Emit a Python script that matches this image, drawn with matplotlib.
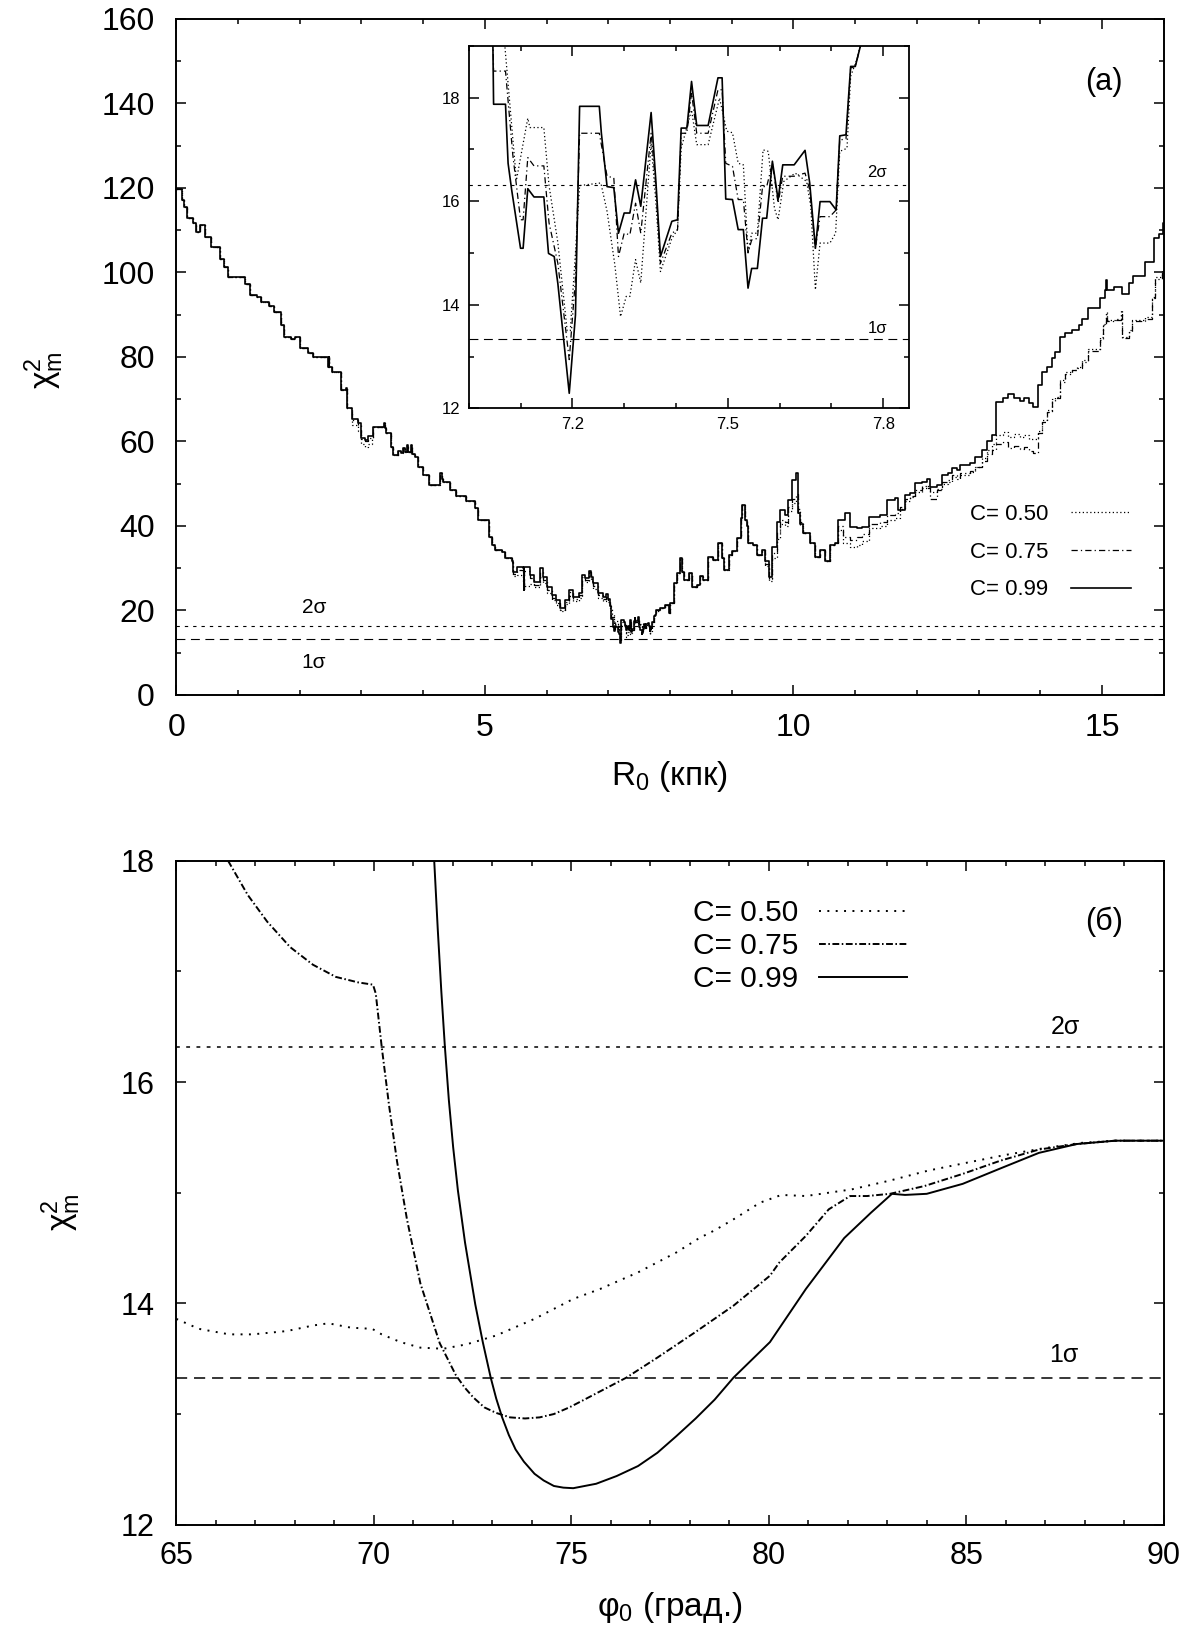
import numpy as np
import matplotlib
matplotlib.use('Agg')
import matplotlib.pyplot as plt
from matplotlib.ticker import MultipleLocator, FixedLocator

plt.rcParams['font.family'] = ['Liberation Sans', 'DejaVu Sans']
plt.rcParams['mathtext.fontset'] = 'custom'
plt.rcParams['mathtext.rm'] = 'Liberation Sans'
plt.rcParams['mathtext.it'] = 'Liberation Sans:italic'
plt.rcParams['mathtext.bf'] = 'Liberation Sans:bold'
plt.rcParams['mathtext.sf'] = 'Liberation Sans'

# ---- panel (a): chi^2 vs R0, pieces shared by all three C values ----
r_a = [0.00, 0.10, 0.13, 0.17, 0.27, 0.32, 0.38, 0.47, 0.57, 0.70, 0.78, 0.84, 1.11, 1.20, 1.30,
       1.38, 1.51, 1.59, 1.70, 1.74, 1.86, 1.92, 2.00, 2.13, 2.21, 2.46, 2.47, 2.48, 2.53, 2.67,
       2.75, 2.77]
chi_a = [119.7, 117.2, 115.6, 112.8, 111.6, 109.7, 111.2, 108.5, 106.1, 103.1, 101.4, 99.0, 97.3, 94.7, 94.1,
         92.9, 92.1, 90.7, 87.6, 84.8, 84.2, 84.8, 82.2, 80.9, 80.1, 77.7, 79.9, 77.7, 76.5, 72.2,
         72.6, 67.9]

r_c = [3.51, 3.60, 3.64, 3.68, 3.70, 3.74, 3.76, 3.80, 3.82, 3.86, 3.92, 4.00, 4.10, 4.27, 4.30,
       4.32, 4.43, 4.54, 4.70, 4.84, 4.89, 5.06, 5.11, 5.17, 5.27, 5.33]
chi_c = [56.8, 57.8, 57.2, 58.5, 57.5, 59.2, 57.4, 59.2, 57.0, 56.4, 54.0, 52.1, 49.7, 52.5, 51.2,
         50.5, 48.5, 47.0, 45.8, 44.2, 41.4, 37.5, 35.5, 34.3, 33.9, 32.4]

r_f = [7.84, 7.92, 7.99, 8.00, 8.06, 8.11, 8.16, 8.19, 8.22, 8.30, 8.35, 8.43, 8.49, 8.54, 8.62,
       8.70, 8.77, 8.84, 8.87, 8.95, 9.00, 9.08, 9.15, 9.17, 9.21, 9.24, 9.27, 9.35, 9.41, 9.49]
chi_f = [20.5, 21.3, 19.3, 21.7, 26.4, 28.8, 32.4, 29.0, 27.2, 28.8, 25.6, 26.0, 28.2, 27.2, 32.7,
         31.9, 35.9, 32.4, 29.6, 33.1, 34.0, 37.1, 42.0, 45.0, 41.5, 39.9, 35.9, 35.5, 33.1, 34.3]

r_h = [10.16, 10.27, 10.35, 10.43, 10.51, 10.59, 10.68]
chi_h = [38.3, 35.9, 32.7, 34.3, 31.6, 35.5, 35.9]

# ---- pieces that differ between C values ----
r_b = [2.84, 2.94, 3.00, 3.05, 3.10, 3.17, 3.19, 3.36, 3.38, 3.40, 3.48]
chi_b_099 = [65.3, 64.3, 60.8, 60.4, 61.2, 61.2, 63.5, 64.3, 63.3, 61.9, 58.8]
chi_b_075 = [65.0, 64.0, 60.5, 60.0, 60.8, 60.8, 63.5, 64.3, 63.3, 61.9, 58.8]
chi_b_050 = [63.8, 62.5, 59.5, 58.8, 59.3, 60.5, 63.5, 64.3, 63.3, 61.9, 58.8]

r_d = [5.44, 5.46, 5.52, 5.62, 5.63, 5.64, 5.73, 5.79, 5.89, 5.95, 6.00, 6.08, 6.16, 6.22, 6.30,
       6.36, 6.43, 6.52, 6.57, 6.62, 6.68, 6.72, 6.76, 6.84, 6.92, 6.97]
chi_d_099 = [31.8, 29.0, 30.2, 30.0, 24.9, 30.2, 28.4, 26.8, 30.0, 28.0, 25.6, 23.7, 22.5, 20.5, 22.5,
             24.9, 23.3, 24.1, 28.4, 27.6, 29.4, 28.0, 26.4, 24.1, 23.3, 23.9]
chi_d_075 = [31.5, 28.7, 29.6, 29.0, 24.5, 29.4, 27.6, 26.0, 29.2, 27.2, 24.8, 23.0, 21.8, 20.0, 22.0,
             24.4, 22.8, 23.6, 28.0, 27.2, 29.0, 27.5, 25.8, 23.6, 22.8, 23.3]
chi_d_050 = [31.2, 28.2, 28.5, 26.5, 25.8, 25.8, 26.3, 25.5, 27.9, 26.4, 24.2, 22.4, 21.2, 19.8, 21.5,
             23.5, 22.2, 23.0, 27.2, 26.8, 28.8, 27.0, 25.2, 23.0, 22.3, 22.8]

# region of the inset (7.0 - 7.85 kpc)
r_e_099 = [7.000, 7.030, 7.045, 7.048, 7.071, 7.076, 7.083, 7.100, 7.105, 7.114, 7.126, 7.145, 7.154,
           7.165, 7.172, 7.194, 7.206, 7.214, 7.252, 7.256, 7.267, 7.280, 7.289, 7.300, 7.311, 7.322,
           7.332, 7.352, 7.361, 7.370, 7.392, 7.403, 7.410, 7.421, 7.430, 7.440, 7.462, 7.481, 7.489,
           7.496, 7.509, 7.520, 7.530, 7.539, 7.546, 7.557, 7.567, 7.575, 7.586, 7.597, 7.606, 7.628,
           7.649, 7.658, 7.669, 7.678, 7.697, 7.709, 7.716, 7.728, 7.737, 7.746, 7.756, 7.780]
chi_e_099 = [22.8, 21.0, 20.5, 17.87, 17.87, 16.73, 16.21, 15.09, 15.09, 16.24, 16.08, 16.08, 14.99,
             14.93, 14.41, 12.29, 13.80, 17.83, 17.83, 17.31, 16.28, 16.26, 15.38, 15.77, 15.77, 16.41,
             15.90, 17.71, 16.41, 14.93, 15.61, 15.64, 17.41, 17.41, 18.31, 17.46, 17.46, 18.38, 18.38,
             16.04, 16.03, 15.45, 15.45, 14.32, 14.70, 14.70, 15.67, 15.67, 16.77, 16.03, 16.70, 16.70,
             16.98, 16.35, 15.09, 15.99, 15.99, 15.83, 17.26, 17.28, 18.60, 18.60, 19.0, 20.2]
r_e_075 = [7.000, 7.030, 7.045, 7.048, 7.071, 7.085, 7.100, 7.105, 7.114, 7.126, 7.145, 7.155, 7.172,
           7.194, 7.206, 7.214, 7.252, 7.267, 7.280, 7.289, 7.300, 7.311, 7.322, 7.332, 7.352, 7.361,
           7.370, 7.392, 7.403, 7.410, 7.421, 7.430, 7.440, 7.462, 7.481, 7.489, 7.496, 7.509, 7.520,
           7.530, 7.539, 7.546, 7.557, 7.567, 7.575, 7.586, 7.597, 7.606, 7.628, 7.649, 7.658, 7.669,
           7.678, 7.697, 7.709, 7.716, 7.728, 7.737, 7.746, 7.756, 7.780]
chi_e_075 = [22.5, 21.0, 20.0, 18.51, 18.51, 16.9, 15.64, 15.64, 16.84, 16.68, 16.68, 15.58, 14.8,
             12.94, 14.5, 17.31, 17.31, 16.48, 16.45, 14.93, 15.38, 15.35, 15.96, 15.38, 17.31, 16.3,
             14.80, 15.38, 15.45, 17.31, 17.31, 18.09, 17.31, 17.31, 18.15, 18.15, 16.73, 16.67, 16.03,
             16.03, 15.0, 15.25, 15.28, 16.28, 16.28, 16.73, 15.96, 16.48, 16.48, 16.54, 16.22, 15.09,
             15.70, 15.70, 15.83, 17.18, 17.2, 18.57, 18.6, 19.0, 20.0]
r_e_050 = [7.000, 7.030, 7.050, 7.068, 7.092, 7.114, 7.118, 7.145, 7.155, 7.172, 7.190, 7.196, 7.206,
           7.214, 7.255, 7.267, 7.282, 7.293, 7.304, 7.311, 7.322, 7.332, 7.352, 7.361, 7.370, 7.392,
           7.403, 7.410, 7.430, 7.440, 7.462, 7.484, 7.498, 7.509, 7.520, 7.530, 7.539, 7.546, 7.557,
           7.568, 7.578, 7.590, 7.597, 7.608, 7.630, 7.652, 7.660, 7.669, 7.678, 7.697, 7.708, 7.716,
           7.730, 7.737, 7.750, 7.756, 7.780]
chi_e_050 = [22.0, 20.5, 20.5, 19.2, 16.4, 17.6, 17.42, 17.42, 16.3, 15.2, 13.5, 13.5, 15.0,
             16.3, 16.35, 15.8, 14.77, 13.77, 14.16, 14.16, 14.87, 14.42, 17.12, 16.0, 14.64, 15.28,
             15.45, 17.02, 17.76, 17.09, 17.09, 17.99, 17.35, 17.32, 16.73, 16.70, 15.0, 15.38, 15.38,
             16.99, 16.96, 15.86, 15.64, 16.38, 16.54, 16.38, 15.9, 14.29, 15.19, 15.19, 15.38, 16.96,
             17.02, 18.41, 18.76, 19.0, 19.8]

r_g = [9.54, 9.60, 9.65, 9.73, 9.78, 9.86, 9.92, 9.97, 10.04, 10.08, 10.11]
chi_g_099 = [31.6, 28.0, 35.1, 41.0, 43.8, 42.6, 46.2, 50.9, 52.5, 43.0, 40.5]
chi_g_075 = [31.0, 27.5, 33.5, 38.5, 41.5, 41.0, 44.5, 46.5, 47.5, 42.5, 40.0]
chi_g_050 = [30.5, 27.0, 32.5, 37.0, 40.5, 40.0, 43.5, 45.4, 46.5, 44.0, 41.0]

r_i_099 = [10.73, 10.84, 10.92, 11.03, 11.11, 11.22, 11.40, 11.51, 11.65, 11.70, 11.81, 11.89, 11.97,
           12.08, 12.16, 12.22, 12.32, 12.40, 12.51, 12.57, 12.65, 12.70, 12.86, 12.94, 13.05, 13.13,
           13.21, 13.29, 13.40, 13.48, 13.57, 13.67, 13.73, 13.81, 13.89, 13.97, 14.03, 14.11, 14.19,
           14.24, 14.32, 14.40, 14.51, 14.62, 14.67, 14.78, 14.97, 15.05, 15.07, 15.08, 15.19, 15.32,
           15.43, 15.51, 15.70, 15.84, 15.92, 15.99, 16.00]
chi_i_099 = [41.4, 43.0, 39.8, 39.5, 39.8, 42.2, 42.6, 46.2, 46.6, 43.8, 47.3, 47.7, 50.1,
             50.5, 51.1, 49.3, 49.7, 52.1, 52.5, 53.7, 53.3, 54.4, 55.0, 56.4, 58.0, 60.0,
             61.5, 69.4, 70.2, 71.2, 70.2, 69.6, 70.2, 69.0, 68.2, 73.3, 76.5, 77.7, 79.7,
             81.2, 84.8, 85.6, 86.4, 87.5, 89.1, 91.5, 93.9, 95.8, 98.2, 95.8, 96.6, 95.0,
             97.4, 99.1, 102.5, 108.1, 109.2, 111.6, 111.6]
r_i_lo = [10.73, 10.80, 10.92, 11.03, 11.11, 11.22, 11.40, 11.51, 11.65, 11.72, 11.81, 11.89, 11.97,
          12.08, 12.16, 12.22, 12.32, 12.40, 12.51, 12.57, 12.65, 12.70, 12.86, 12.94, 13.05, 13.13,
          13.21, 13.29, 13.40, 13.48, 13.57, 13.67, 13.73, 13.81, 13.89, 13.97, 14.03, 14.11, 14.19,
          14.24, 14.32, 14.40, 14.51, 14.59, 14.67, 14.78, 14.97, 15.02, 15.07, 15.08, 15.21, 15.30,
          15.32, 15.43, 15.48, 15.70, 15.81, 15.86, 15.97, 16.00]
chi_i_075 = [40.0, 37.5, 36.8, 37.5, 38.2, 40.5, 41.0, 42.5, 43.0, 44.5, 46.5, 47.0, 48.5,
             49.5, 49.0, 46.5, 48.5, 50.5, 50.8, 52.0, 51.5, 52.5, 53.0, 54.0, 55.5, 57.0,
             58.0, 59.3, 59.8, 58.5, 59.0, 58.3, 58.6, 57.8, 57.2, 61.9, 64.5, 67.0, 69.5,
             70.3, 74.0, 76.0, 77.0, 77.5, 78.8, 81.5, 84.0, 87.5, 90.2, 88.5, 88.8, 90.5,
             84.5, 86.0, 88.5, 89.0, 94.0, 98.5, 100.5, 104.5]
chi_i_050 = [39.0, 36.0, 35.1, 35.5, 36.5, 39.5, 40.0, 41.5, 42.0, 44.0, 46.0, 46.8, 48.0,
             49.0, 49.5, 48.0, 48.8, 50.0, 50.5, 51.5, 51.2, 52.0, 52.8, 54.0, 56.0, 58.0,
             59.5, 61.5, 62.3, 61.0, 61.8, 61.0, 61.5, 60.7, 60.5, 62.5, 65.0, 67.4, 70.0,
             70.6, 74.5, 76.5, 77.0, 77.7, 79.3, 82.0, 84.8, 87.9, 90.7, 88.7, 89.1, 91.1,
             84.8, 86.4, 88.7, 89.5, 94.3, 99.0, 100.6, 103.0]

# ---- panel (b): chi^2 vs phi0 ----
phi_050 = [65.0, 65.57, 66.34, 66.93, 67.8, 68.46, 68.85, 69.43, 69.96, 70.2, 70.68, 71.18, 71.76,
           72.35, 73.10, 74.07, 75.05, 75.73, 76.69, 77.66, 78.24, 78.63, 79.11, 79.78, 80.32,
           80.94, 82.10, 83.07, 84.04, 85.0, 85.97, 86.93, 87.9, 88.77, 90.0]
chi_050 = [13.86, 13.77, 13.72, 13.72, 13.75, 13.80, 13.82, 13.78, 13.77, 13.72, 13.65, 13.60, 13.59,
           13.63, 13.71, 13.86, 14.04, 14.13, 14.28, 14.46, 14.59, 14.66, 14.76, 14.91, 14.98,
           14.97, 15.03, 15.11, 15.20, 15.27, 15.34, 15.40, 15.45, 15.47, 15.47]
phi_075 = [66.31, 66.81, 67.30, 67.88, 68.46, 69.04, 69.61, 69.98, 70.05, 70.20, 70.39, 70.59,
           70.84, 71.18, 71.67, 72.08, 72.30, 72.52, 72.80, 73.10, 73.45, 73.83, 74.20, 74.56,
           74.95, 75.33, 76.40, 77.18, 78.14, 79.11, 80.03, 80.27, 80.94, 81.52, 82.06, 82.49,
           83.07, 83.94, 84.91, 85.87, 86.84, 87.8, 88.77, 90.0]
chi_075 = [18.0, 17.69, 17.45, 17.22, 17.06, 16.95, 16.90, 16.88, 16.80, 16.32, 15.78, 15.28,
           14.76, 14.18, 13.64, 13.35, 13.24, 13.15, 13.06, 13.01, 12.97, 12.96, 12.97, 13.00,
           13.06, 13.13, 13.33, 13.51, 13.74, 13.98, 14.25, 14.37, 14.61, 14.85, 14.97, 14.97,
           14.99, 15.06, 15.17, 15.29, 15.39, 15.44, 15.47, 15.47]
phi_099 = [71.53, 71.62, 71.71, 71.80, 71.90, 72.01, 72.13, 72.31, 72.57, 72.76, 72.96, 73.10,
           73.25, 73.42, 73.59, 73.80, 74.07, 74.30, 74.56, 74.80, 75.05, 75.63, 76.15, 76.69,
           77.18, 77.66, 78.15, 78.63, 79.11, 80.03, 80.94, 81.91, 82.59, 83.12, 83.45, 84.0,
           84.91, 85.87, 86.84, 87.8, 88.77, 90.0]
chi_099 = [18.0, 17.38, 16.82, 16.32, 15.84, 15.41, 15.02, 14.55, 13.99, 13.65, 13.33, 13.14,
           12.97, 12.81, 12.68, 12.57, 12.46, 12.40, 12.35, 12.335, 12.33, 12.37, 12.44, 12.53,
           12.65, 12.80, 12.96, 13.13, 13.33, 13.65, 14.13, 14.59, 14.82, 14.99, 14.98, 14.99,
           15.08, 15.22, 15.36, 15.44, 15.47, 15.47]

sigma1 = 13.33
sigma2 = 16.32
labels = ['C= 0.50', 'C= 0.75', 'C= 0.99']

r_099 = np.concatenate([r_a, r_b, r_c, r_d, r_e_099, r_f, r_g, r_h, r_i_099])
chi_099_a = np.concatenate([chi_a, chi_b_099, chi_c, chi_d_099, chi_e_099, chi_f, chi_g_099, chi_h, chi_i_099])
r_075 = np.concatenate([r_a, r_b, r_c, r_d, r_e_075, r_f, r_g, r_h, r_i_lo])
chi_075_a = np.concatenate([chi_a, chi_b_075, chi_c, chi_d_075, chi_e_075, chi_f, chi_g_075, chi_h, chi_i_075])
r_050 = np.concatenate([r_a, r_b, r_c, r_d, r_e_050, r_f, r_g, r_h, r_i_lo])
chi_050_a = np.concatenate([chi_a, chi_b_050, chi_c, chi_d_050, chi_e_050, chi_f, chi_g_050, chi_h, chi_i_050])

dot_top = (0, (1, 2))
dashdot_top = (0, (5, 2.5, 1, 2.5))


def style_axes(ax, labelsize, padx, pady, major=7.5, minor=3.6, spine=1.4):
    ax.tick_params(which='both', direction='in', top=True, right=True, width=1.1)
    ax.tick_params(which='major', length=major)
    ax.tick_params(which='minor', length=minor)
    ax.tick_params(axis='x', labelsize=labelsize, pad=padx)
    ax.tick_params(axis='y', labelsize=labelsize, pad=pady)
    for s in ax.spines.values():
        s.set_linewidth(spine)


fig = plt.figure(figsize=(12.04, 16.29), dpi=100)

# ---------------- panel (a) ----------------
ax1 = fig.add_axes([0.14643, 0.57336, 0.82010, 0.41498])
l050, = ax1.plot(r_050, chi_050_a, color='black', lw=0.9, ls=dot_top, drawstyle='steps-post')
l075, = ax1.plot(r_075, chi_075_a, color='black', lw=0.9, ls=dashdot_top, drawstyle='steps-post')
l099, = ax1.plot(r_099, chi_099_a, color='black', lw=1.2, drawstyle='steps-post')
ax1.axhline(sigma2, color='black', lw=0.8, ls=(0, (3, 4.5)))
ax1.axhline(sigma1, color='black', lw=0.8, ls=(0, (8, 5)))
ax1.text(2.23, 20.6, '2σ', fontsize=15, ha='center', va='center')
ax1.text(2.23, 7.6, '1σ', fontsize=15, ha='center', va='center')
ax1.text(0.9395, 0.907, '(a)', transform=ax1.transAxes, fontsize=22, ha='center', va='center')
ax1.set_xlim(0, 16)
ax1.set_ylim(0, 160)
ax1.xaxis.set_major_locator(MultipleLocator(5))
ax1.xaxis.set_minor_locator(MultipleLocator(1))
ax1.yaxis.set_major_locator(MultipleLocator(20))
ax1.yaxis.set_minor_locator(MultipleLocator(10))
style_axes(ax1, 23, 13, 15.5)
ax1.set_xlabel('R$_\\mathregular{0}$ (кпк)', fontsize=24)
ax1.xaxis.set_label_coords(0.5, -0.095)
ax1.set_ylabel(r'$\mathregular{\chi^2_m}$', fontsize=24)
ax1.yaxis.set_label_coords(-0.112, 0.48)
ax1.legend([l050, l075, l099], labels, loc='upper right', bbox_to_anchor=(0.9664, 0.2825),
           frameon=False, markerfirst=False, fontsize=16, handlelength=2.7,
           handletextpad=1.0, labelspacing=0.75, borderpad=0, borderaxespad=0)

# inset
axin = fig.add_axes([0.38929, 0.74935, 0.36586, 0.22259])
axin.set_facecolor('white')
axin.plot(r_050, chi_050_a, color='black', lw=0.9, ls=dot_top)
axin.plot(r_075, chi_075_a, color='black', lw=0.9, ls=dashdot_top)
axin.plot(r_099, chi_099_a, color='black', lw=1.2)
axin.axhline(sigma2, color='black', lw=0.8, ls=(0, (3, 4.5)))
axin.axhline(sigma1, color='black', lw=0.8, ls=(0, (8, 5)))
axin.text(7.788, 16.55, '2σ', fontsize=12, ha='center', va='center')
axin.text(7.788, 13.55, '1σ', fontsize=12, ha='center', va='center')
axin.set_xlim(7.0, 7.85)
axin.set_ylim(12, 19)
axin.xaxis.set_major_locator(FixedLocator([7.2, 7.5, 7.8]))
axin.xaxis.set_minor_locator(MultipleLocator(0.1))
axin.set_xticklabels(['7.2', '7.5', '7.8'])
axin.yaxis.set_major_locator(MultipleLocator(2))
axin.yaxis.set_minor_locator(MultipleLocator(1))
style_axes(axin, 12, 6.5, 6, major=7, minor=3.4, spine=1.3)

# ---------------- panel (b) ----------------
ax2 = fig.add_axes([0.14643, 0.06402, 0.82010, 0.40761])
m050, = ax2.plot(phi_050, chi_050, color='black', lw=1.4, ls=(0, (1, 3.3)))
m075, = ax2.plot(phi_075, chi_075, color='black', lw=1.4, ls=(0, (3.5, 1.3, 0.8, 1.3)))
m099, = ax2.plot(phi_099, chi_099, color='black', lw=1.4)
ax2.axhline(sigma2, color='black', lw=1.1, ls=(0, (2.5, 4.2)))
ax2.axhline(sigma1, color='black', lw=1.1, ls=(0, (7.3, 4.5)))
ax2.text(87.5, 16.5, '2σ', fontsize=18, ha='center', va='center')
ax2.text(87.47, 13.53, '1σ', fontsize=18, ha='center', va='center')
ax2.text(0.9395, 0.9077, '(б)', transform=ax2.transAxes, fontsize=22, ha='center', va='center')
ax2.set_xlim(65, 90)
ax2.set_ylim(12, 18)
ax2.xaxis.set_major_locator(MultipleLocator(5))
ax2.xaxis.set_minor_locator(MultipleLocator(1))
ax2.yaxis.set_major_locator(MultipleLocator(2))
ax2.yaxis.set_minor_locator(MultipleLocator(1))
style_axes(ax2, 22, 11.5, 15.5)
ax2.set_xlabel('φ$_\\mathregular{0}$ (град.)', fontsize=24)
ax2.xaxis.set_label_coords(0.5, -0.098)
ax2.set_ylabel(r'$\mathregular{\chi^2_m}$', fontsize=24)
ax2.yaxis.set_label_coords(-0.094, 0.47)
ax2.legend([m050, m075, m099], labels, loc='upper right', bbox_to_anchor=(0.740, 0.942),
           frameon=False, markerfirst=False, fontsize=21.5, handlelength=2.95,
           handletextpad=0.7, labelspacing=0.17, borderpad=0, borderaxespad=0)

fig.savefig('out.png', dpi=100)
